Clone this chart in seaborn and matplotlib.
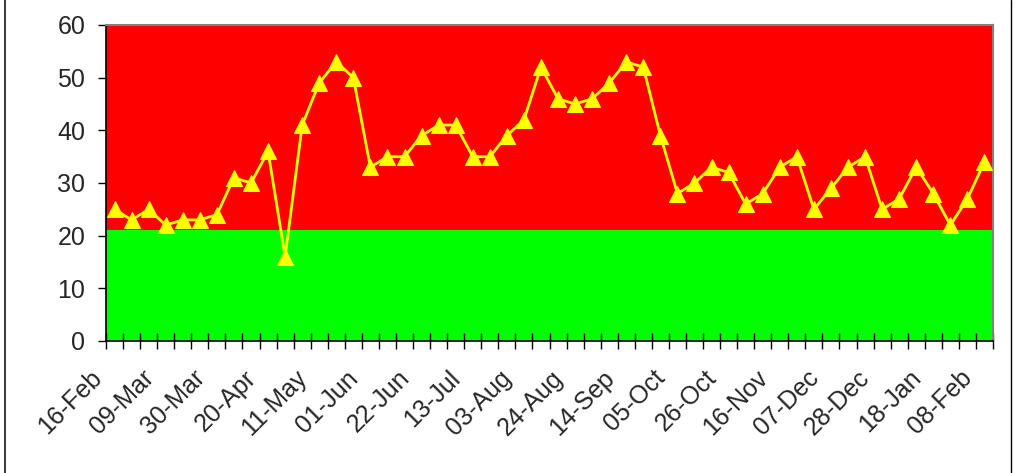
import numpy as np
import pandas as pd
import matplotlib
matplotlib.use("Agg")
import matplotlib.pyplot as plt
import matplotlib.transforms as mtransforms
import seaborn as sns
from matplotlib.lines import Line2D

# weekly values, 16-Feb .. 08-Feb
valores = [25, 23, 25, 22, 23, 23, 24, 31, 30, 36,
           16, 41, 49, 53, 50, 33, 35, 35, 39, 41,
           41, 35, 35, 39, 42, 52, 46, 45, 46, 49,
           53, 52, 39, 28, 30, 33, 32, 26, 28, 33,
           35, 25, 29, 33, 35, 25, 27, 33, 28, 22,
           27, 34]
etiquetas = ['16-Feb', '09-Mar', '30-Mar', '20-Apr', '11-May', '01-Jun',
             '22-Jun', '13-Jul', '03-Aug', '24-Aug', '14-Sep', '05-Oct',
             '26-Oct', '16-Nov', '07-Dec', '28-Dec', '18-Jan', '08-Feb']
limite = 21
y_max = 60

df = pd.DataFrame({'semana': np.arange(len(valores)), 'valor': valores})

sns.set_style('white')
plt.rcParams['font.family'] = ['Liberation Sans', 'DejaVu Sans']

fig = plt.figure(figsize=(10.16, 4.73), dpi=100)
ax = fig.add_axes([106 / 1016, 1 - 341 / 473, 887 / 1016, 316 / 473])

# zonas de fondo
ax.axhspan(0, limite, color='#00FF00', lw=0, zorder=0)
ax.axhspan(limite, y_max, color='#FF0000', lw=0, zorder=0)

sns.lineplot(data=df, x='semana', y='valor', ax=ax, color='#FFFF00',
             marker='^', markersize=11, markeredgecolor='#FFFF00',
             linewidth=2, zorder=3)

n = len(valores)
ax.set_xlim(-0.5, n - 0.5)
ax.set_ylim(0, y_max)
ax.set_yticks(range(0, 61, 10))
ax.set_xticks(np.arange(0, n, 3))
ax.set_xticklabels(etiquetas, rotation=45, ha='right', va='center',
                   rotation_mode='anchor', fontsize=18)
ax.set_xticks(np.arange(-0.5, n, 1), minor=True)
ax.tick_params(axis='x', which='major', length=0, pad=24, bottom=False)
ax.tick_params(axis='x', which='minor', direction='inout', length=11,
               width=1, color='black', bottom=True)
ax.tick_params(axis='y', direction='out', length=6, width=1, color='black',
               left=True, labelsize=18, pad=9)
ax.set_xlabel('')
ax.set_ylabel('')

desplazar = mtransforms.ScaledTranslation(-16 / 100, 0, fig.dpi_scale_trans)
for t in ax.get_xticklabels():
    t.set_transform(t.get_transform() + desplazar)

for lado in ['left', 'bottom']:
    ax.spines[lado].set_color('black')
    ax.spines[lado].set_linewidth(1.2)
for lado in ['top', 'right']:
    ax.spines[lado].set_color('#808080')
    ax.spines[lado].set_linewidth(1.5)

# bordes del area del grafico
fig.add_artist(Line2D([5 / 1016, 5 / 1016], [0, 1], color='#404040', lw=1.5))
fig.add_artist(Line2D([1010.5 / 1016, 1010.5 / 1016], [0, 1], color='black', lw=1))

fig.savefig('out.png', dpi=100)
